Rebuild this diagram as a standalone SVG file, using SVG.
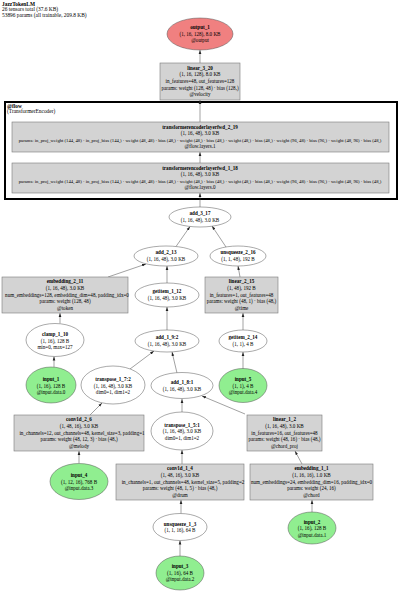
<svg xmlns="http://www.w3.org/2000/svg" width="400" height="592" viewBox="0 0 400 592">
<style>
text{font-family:"Liberation Serif","Times New Roman",serif;font-size:5.1px;fill:#000;text-anchor:middle}
.b{font-weight:bold}
.h{text-anchor:start;font-size:5.4px}
.p{font-size:4.7px}
.box{fill:#d3d3d3;stroke:#7a7a7a;stroke-width:0.6}
.ell{fill:#fff;stroke:#555;stroke-width:0.5}
.in{fill:#90ee90;stroke:#555;stroke-width:0.5}
.out{fill:#f08080;stroke:#555;stroke-width:0.5}
.e{stroke:#444;stroke-width:0.5;fill:none;marker-end:url(#a)}
</style>
<defs>
<marker id="a" markerUnits="userSpaceOnUse" markerWidth="4" markerHeight="4" viewBox="0 0 4 4" refX="4" refY="2" orient="auto"><path d="M0,0.7 L4,2 L0,3.3 z" fill="#222"/></marker>
</defs>
<rect width="400" height="592" fill="#fff"/>
<g id="header">
<text class="h b" x="2" y="6">JazzTokenLM</text>
<text class="h" x="2" y="11.3">26 tensors total (37.6 KB)</text>
<text class="h" x="2" y="16.6">53896 params (all trainable, 209.8 KB)</text>
</g>
<g id="cluster_flow">
<rect x="5" y="102" width="392" height="97" fill="none" stroke="#000" stroke-width="2"/>
<text class="h b" x="7" y="107.5">@flow</text>
<text class="h" x="7" y="112.8">(TransformerEncoder)</text>
</g>
<g id="edges">
<line class="e" x1="200" y1="63" x2="200" y2="50"/>
<line class="e" x1="200" y1="122" x2="200" y2="100"/>
<line class="e" x1="200" y1="163" x2="200" y2="152"/>
<line class="e" x1="200" y1="207" x2="200" y2="193"/>
<line class="e" x1="176" y1="246.5" x2="190" y2="226.5"/>
<line class="e" x1="226" y1="247" x2="212" y2="226"/>
<line class="e" x1="108" y1="277" x2="146" y2="264"/>
<line class="e" x1="167" y1="283" x2="167" y2="266"/>
<line class="e" x1="240" y1="277" x2="238" y2="266"/>
<line class="e" x1="60" y1="323.5" x2="60" y2="313"/>
<line class="e" x1="167" y1="330" x2="167" y2="307"/>
<line class="e" x1="243" y1="330" x2="243" y2="313"/>
<line class="e" x1="54" y1="367" x2="54" y2="356.5"/>
<line class="e" x1="130" y1="369" x2="154" y2="351"/>
<line class="e" x1="177" y1="373" x2="172" y2="352"/>
<line class="e" x1="243" y1="369" x2="243" y2="352"/>
<line class="e" x1="90" y1="415" x2="102" y2="403"/>
<line class="e" x1="182" y1="412" x2="182" y2="399"/>
<line class="e" x1="245" y1="414" x2="202" y2="396"/>
<line class="e" x1="79" y1="463" x2="79" y2="451"/>
<line class="e" x1="182" y1="464" x2="182" y2="450"/>
<line class="e" x1="302" y1="464" x2="295" y2="451"/>
<line class="e" x1="181" y1="513.5" x2="181" y2="500"/>
<line class="e" x1="180" y1="556" x2="180" y2="540.5"/>
<line class="e" x1="312" y1="512" x2="312" y2="500"/>
</g>
<g id="output_1">
<ellipse class="out" cx="200" cy="34" rx="33" ry="16"/>
<text class="b" x="200" y="29">output_1</text>
<text x="200" y="35.7">(1, 16, 128), 8.0 KB</text>
<text x="200" y="42.4">@output</text>
</g>
<g id="linear_3_20">
<rect class="box" x="160" y="63" width="80" height="37"/>
<text class="b" x="200" y="69.6">linear_3_20</text>
<text x="200" y="76.3">(1, 16, 128), 8.0 KB</text>
<text x="200" y="83">in_features=48, out_features=128</text>
<text x="200" y="89.7">params: weight (128, 48) · bias (128,)</text>
<text x="200" y="96.4">@velocity</text>
</g>
<g id="transformerencoderlayerfwd_2_19">
<rect class="box" x="12" y="122" width="377" height="30"/>
<text class="b" x="200" y="128.5">transformerencoderlayerfwd_2_19</text>
<text x="200" y="135">(1, 16, 48), 3.0 KB</text>
<text class="p" x="200" y="141.5">params: in_proj_weight (144, 48) · in_proj_bias (144,) · weight (48, 48) · bias (48,) · weight (48,) · bias (48,) · weight (48,) · bias (48,) · weight (96, 48) · bias (96,) · weight (48, 96) · bias (48,)</text>
<text x="200" y="148">@flow.layers.1</text>
</g>
<g id="transformerencoderlayerfwd_1_18">
<rect class="box" x="12" y="163" width="377" height="30"/>
<text class="b" x="200" y="169.5">transformerencoderlayerfwd_1_18</text>
<text x="200" y="176">(1, 16, 48), 3.0 KB</text>
<text class="p" x="200" y="182.5">params: in_proj_weight (144, 48) · in_proj_bias (144,) · weight (48, 48) · bias (48,) · weight (48,) · bias (48,) · weight (48,) · bias (48,) · weight (96, 48) · bias (96,) · weight (48, 96) · bias (48,)</text>
<text x="200" y="189">@flow.layers.0</text>
</g>
<g id="add_3_17">
<ellipse class="ell" cx="200" cy="217" rx="31" ry="10"/>
<text class="b" x="200" y="215.4">add_3_17</text>
<text x="200" y="222">(1, 16, 48), 3.0 KB</text>
</g>
<g id="add_2_13">
<ellipse class="ell" cx="166" cy="256" rx="32" ry="10"/>
<text class="b" x="166" y="254.4">add_2_13</text>
<text x="166" y="261">(1, 16, 48), 3.0 KB</text>
</g>
<g id="unsqueeze_2_16">
<ellipse class="ell" cx="238" cy="256" rx="28" ry="10"/>
<text class="b" x="238" y="254.4">unsqueeze_2_16</text>
<text x="238" y="261">(1, 1, 48), 192 B</text>
</g>
<g id="embedding_2_11">
<rect class="box" x="2" y="277" width="126" height="36"/>
<text class="b" x="65" y="283.3">embedding_2_11</text>
<text x="65" y="290">(1, 16, 48), 3.0 KB</text>
<text x="67" y="296.7">num_embeddings=128, embedding_dim=48, padding_idx=0</text>
<text x="65" y="303.4">params: weight (128, 48)</text>
<text x="65" y="310.1">@token</text>
</g>
<g id="getitem_1_12">
<ellipse class="ell" cx="167" cy="295" rx="32" ry="12"/>
<text class="b" x="167" y="293.4">getitem_1_12</text>
<text x="167" y="300">(1, 16, 48), 3.0 KB</text>
</g>
<g id="linear_2_15">
<rect class="box" x="205" y="277" width="73" height="36"/>
<text class="b" x="241.5" y="283.3">linear_2_15</text>
<text x="241.5" y="290">(1, 48), 192 B</text>
<text x="241.5" y="296.7">in_features=1, out_features=48</text>
<text x="241.5" y="303.4">params: weight (48, 1) · bias (48,)</text>
<text x="241.5" y="310.1">@time</text>
</g>
<g id="clamp_1_10">
<ellipse class="ell" cx="55" cy="340" rx="29" ry="16.5"/>
<text class="b" x="55" y="336">clamp_1_10</text>
<text x="55" y="342.7">(1, 16), 128 B</text>
<text x="55" y="349.4">min=0, max=127</text>
</g>
<g id="add_1_9_2">
<ellipse class="ell" cx="167" cy="341" rx="32" ry="11"/>
<text class="b" x="167" y="339.4">add_1_9:2</text>
<text x="167" y="346">(1, 16, 48), 3.0 KB</text>
</g>
<g id="getitem_2_14">
<ellipse class="ell" cx="243" cy="341" rx="24" ry="11"/>
<text class="b" x="243" y="339.4">getitem_2_14</text>
<text x="243" y="346">(1, 1), 4 B</text>
</g>
<g id="input_1">
<ellipse class="in" cx="51" cy="385" rx="25" ry="18"/>
<text class="b" x="51" y="380.8">input_1</text>
<text x="51" y="387.5">(1, 16), 128 B</text>
<text x="51" y="394.2">@input.data.0</text>
</g>
<g id="transpose_1_7_2">
<ellipse class="ell" cx="113" cy="385" rx="32" ry="19"/>
<text class="b" x="113" y="380.8">transpose_1_7:2</text>
<text x="113" y="387.5">(1, 16, 48), 3.0 KB</text>
<text x="113" y="394.2">dim0=1, dim1=2</text>
</g>
<g id="add_1_8_1">
<ellipse class="ell" cx="182" cy="385.5" rx="31" ry="13"/>
<text class="b" x="182" y="384">add_1_8:1</text>
<text x="182" y="390.6">(1, 16, 48), 3.0 KB</text>
</g>
<g id="input_5">
<ellipse class="in" cx="243" cy="385.5" rx="24" ry="17"/>
<text class="b" x="243" y="381">input_5</text>
<text x="243" y="387.7">(1, 1), 4 B</text>
<text x="243" y="394.4">@input.data.4</text>
</g>
<g id="conv1d_2_6">
<rect class="box" x="14" y="415" width="130" height="36"/>
<text class="b" x="79" y="421.3">conv1d_2_6</text>
<text x="79" y="428">(1, 48, 16), 3.0 KB</text>
<text x="82" y="434.7">in_channels=12, out_channels=48, kernel_size=3, padding=1</text>
<text x="79" y="441.4">params: weight (48, 12, 3) · bias (48,)</text>
<text x="79" y="448.1">@melody</text>
</g>
<g id="transpose_1_5_1">
<ellipse class="ell" cx="182" cy="431" rx="31" ry="19"/>
<text class="b" x="182" y="426.6">transpose_1_5:1</text>
<text x="182" y="433.3">(1, 16, 48), 3.0 KB</text>
<text x="182" y="440">dim0=1, dim1=2</text>
</g>
<g id="linear_1_2">
<rect class="box" x="247" y="415" width="75" height="36"/>
<text class="b" x="284.5" y="421.3">linear_1_2</text>
<text x="284.5" y="428">(1, 16, 48), 3.0 KB</text>
<text x="284.5" y="434.7">in_features=16, out_features=48</text>
<text x="284.5" y="441.4">params: weight (48, 16) · bias (48,)</text>
<text x="284.5" y="448.1">@chord_proj</text>
</g>
<g id="input_4">
<ellipse class="in" cx="79" cy="481.5" rx="29" ry="18"/>
<text class="b" x="79" y="477">input_4</text>
<text x="79" y="483.7">(1, 12, 16), 768 B</text>
<text x="79" y="490.4">@input.data.3</text>
</g>
<g id="embedding_1_1">
<rect class="box" x="250" y="464" width="123" height="36"/>
<text class="b" x="311.5" y="470.3">embedding_1_1</text>
<text x="311.5" y="477">(1, 16, 16), 1.0 KB</text>
<text x="311.5" y="483.7">num_embeddings=24, embedding_dim=16, padding_idx=0</text>
<text x="311.5" y="490.4">params: weight (24, 16)</text>
<text x="311.5" y="497.1">@chord</text>
</g>
<g id="conv1d_1_4">
<rect class="box" x="116" y="464" width="128" height="36"/>
<text class="b" x="180" y="470.3">conv1d_1_4</text>
<text x="180" y="477">(1, 48, 16), 3.0 KB</text>
<text x="183" y="483.7">in_channels=1, out_channels=48, kernel_size=5, padding=2</text>
<text x="180" y="490.4">params: weight (48, 1, 5) · bias (48,)</text>
<text x="180" y="497.1">@drum</text>
</g>
<g id="unsqueeze_1_3">
<ellipse class="ell" cx="180" cy="527" rx="27" ry="13.5"/>
<text class="b" x="180" y="525.5">unsqueeze_1_3</text>
<text x="180" y="532.2">(1, 1, 16), 64 B</text>
</g>
<g id="input_2">
<ellipse class="in" cx="312" cy="528" rx="24" ry="16"/>
<text class="b" x="312" y="523.5">input_2</text>
<text x="312" y="530.2">(1, 16), 128 B</text>
<text x="312" y="536.9">@input.data.1</text>
</g>
<g id="input_3">
<ellipse class="in" cx="180" cy="573" rx="24" ry="17"/>
<text class="b" x="180" y="568">input_3</text>
<text x="180" y="574.7">(1, 16), 64 B</text>
<text x="180" y="581.4">@input.data.2</text>
</g>
</svg>
